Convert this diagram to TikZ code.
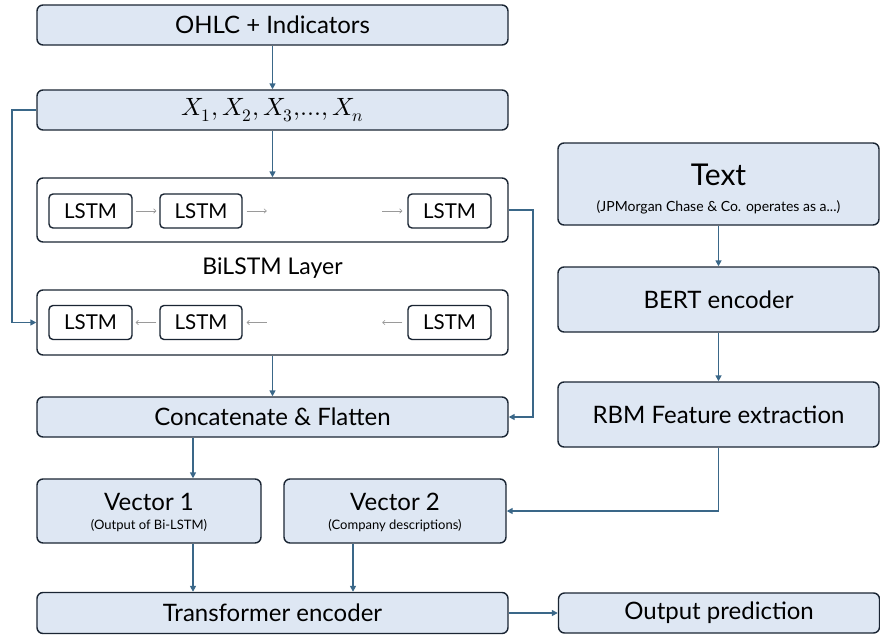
\documentclass[tikz,border=0pt]{standalone}
\usepackage{unicode-math}
\setmainfont{Lato}
\usetikzlibrary{arrows.meta,positioning,calc}
\definecolor{fillc}{HTML}{DEE7F3}
\definecolor{bordc}{HTML}{1A2533}
\definecolor{arrc}{HTML}{3A6788}
\definecolor{greyc}{HTML}{9A9A9A}
\tikzset{
  box/.style={draw=bordc, fill=fillc, rounded corners=6pt, line width=1.4pt, inner sep=0pt, font=\fontsize{24}{27}\selectfont},
  wbox/.style={draw=bordc, fill=white, rounded corners=6pt, line width=1.4pt, inner sep=0pt},
  lstm/.style={draw=bordc, fill=white, rounded corners=4pt, line width=1.4pt, inner sep=0pt, minimum height=34pt, font=\fontsize{20.5}{23}\selectfont},
  arr/.style={draw=arrc, line width=1.6pt, -{Triangle[length=6pt,width=6pt]}},
  garr/.style={draw=greyc, line width=0.6pt, -{To[length=3pt,width=5pt]}},
  lbl/.style={inner sep=0pt},
}
\begin{document}
\begin{tikzpicture}[x=1pt,y=-1pt]
\useasboundingbox (0,0) rectangle (880,637);
% left column
\node[box, minimum width=471pt, minimum height=40pt] (ohlc) at (272.5,25) {OHLC + Indicators};
\node[box, minimum width=471pt, minimum height=40pt] (xs) at (272.5,110) {\fontsize{25}{28}\selectfont $X_1, X_2, X_3,\!\ldots\!, X_n$};
\node[wbox, minimum width=471pt, minimum height=64pt] (fwd) at (272.5,210) {};
\node[lstm, minimum width=83pt] (f1) at (90.5,211) {LSTM};
\node[lstm, minimum width=82pt] (f2) at (201,211) {LSTM};
\node[lstm, minimum width=83pt] (f3) at (449.5,211) {LSTM};
\node[font=\fontsize{23}{26}\selectfont] (bilabel) at (272.5,268) {BiLSTM Layer};
\node[wbox, minimum width=471pt, minimum height=65pt] (bwd) at (272.5,322.5) {};
\node[lstm, minimum width=83pt] (b1) at (90.5,322.5) {LSTM};
\node[lstm, minimum width=82pt] (b2) at (201,322.5) {LSTM};
\node[lstm, minimum width=83pt] (b3) at (449.5,322.5) {LSTM};
\node[box, minimum width=471pt, minimum height=40pt] (concat) at (272.5,417) {Concatenate \& Flatten};
\node[box, minimum width=224pt, minimum height=64pt] (v1) at (149,511) {};
\node[lbl, font=\fontsize{24}{27}\selectfont] (v1t) at (149,502) {Vector 1};
\node[lbl, font=\fontsize{13}{15}\selectfont] (v1s) at (149,526) {(Output of Bi-LSTM)};
\node[box, minimum width=222pt, minimum height=64pt] (v2) at (395,511) {};
\node[lbl, font=\fontsize{24}{27}\selectfont] (v2t) at (395,502) {Vector 2};
\node[lbl, font=\fontsize{13}{15}\selectfont] (v2s) at (395,526) {(Company descriptions)};
\node[box, minimum width=471pt, minimum height=41pt] (trans) at (272.5,613) {Transformer encoder};
\node[box, minimum width=321pt, minimum height=40pt] (out) at (719,613) {Output prediction};
% right column
\node[box, minimum width=321pt, minimum height=82pt] (text) at (718.5,184) {};
\node[lbl, font=\fontsize{30}{33}\selectfont] (textt) at (718.5,175) {Text};
\node[lbl, font=\fontsize{14}{16}\selectfont] (texts) at (718.5,207) {(JPMorgan Chase \& Co. operates as a...)};
\node[box, minimum width=321pt, minimum height=65pt] (bert) at (718.5,299.5) {BERT encoder};
\node[box, minimum width=321pt, minimum height=65pt] (rbm) at (718.5,414.5) {RBM Feature extraction};
% coordinates for bends
\coordinate (lbend) at (12,0);
\coordinate (rbend) at (533,0);
% main arrows
\draw[arr] (ohlc.south) -- (xs.north);
\draw[arr] (xs.south) -- (fwd.north);
\draw[arr] (bwd.south) -- (concat.north);
\draw[arr] (xs.west) -- (xs.west -| lbend) -- (bwd.west -| lbend) -- (bwd.west);
\draw[arr] (fwd.east) -- (fwd.east -| rbend) -- (concat.east -| rbend) -- (concat.east);
\draw[arr] ([xshift=44pt]v1.north |- concat.south) -- ([xshift=44pt]v1.north);
\draw[arr] ([xshift=44pt]v1.south) -- ([xshift=44pt]v1.south |- trans.north);
\draw[arr] ([xshift=-42pt]v2.south) -- ([xshift=-42pt]v2.south |- trans.north);
\draw[arr] (text.south) -- (bert.north);
\draw[arr] (bert.south) -- (rbm.north);
\draw[arr] (rbm.south) |- (v2.east);
\draw[arr] (trans.east) -- (out.west);
% grey arrows
\draw[garr] ([xshift=3pt]f1.east) -- ([xshift=-3pt]f2.west);
\draw[garr] ([xshift=4pt]f2.east) -- ++(20pt,0);
\draw[garr] ([xshift=-25pt]f3.west) -- ([xshift=-5pt]f3.west);
\draw[garr] ([xshift=-3pt]b2.west) -- ([xshift=3pt]b1.east);
\draw[garr] ([xshift=24pt]b2.east) -- ([xshift=4pt]b2.east);
\draw[garr] ([xshift=-5pt]b3.west) -- ++(-20pt,0);
\end{tikzpicture}
\end{document}
